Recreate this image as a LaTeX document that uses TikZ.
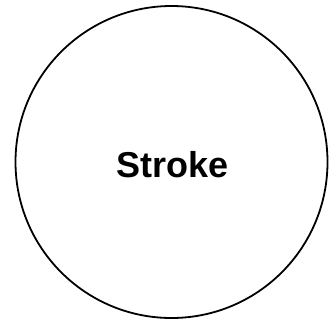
\documentclass[tikz,border=0pt]{standalone}
\usepackage{fontspec}
\setmainfont{Liberation Sans}
\begin{document}
\begin{tikzpicture}[x=1pt,y=-1pt,
  ring/.style={circle,draw=black,line width=1.8pt,minimum size=312pt,inner sep=0pt},
  lbl/.style={font=\fontsize{36}{40}\selectfont\bfseries}]
\useasboundingbox (0,0) rectangle (336,322);
\node[ring] (c) at (171.5,162) {};
\node[lbl] (t) at (172.5,165) {Stroke};
\end{tikzpicture}
\end{document}
